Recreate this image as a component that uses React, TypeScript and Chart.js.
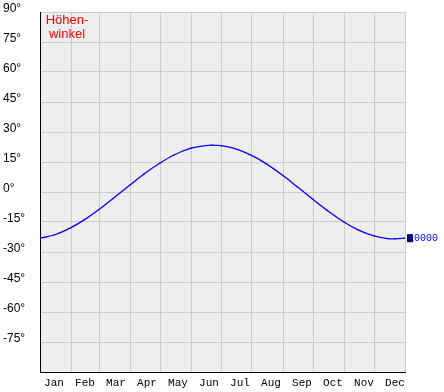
import React, { useEffect, useRef } from 'react';
import { Chart, registerables } from 'chart.js';

Chart.register(...registerables);

// Day of year (0 = Jan 1) and elevation angle in degrees
const days = [0, 14, 31, 45, 59, 73, 90, 104, 120, 134, 151, 165, 172, 181, 195, 212, 226, 243, 257, 273, 287, 304, 318, 334, 348, 355, 365];
const elevation = [-23.1, -21.5, -17.8, -13.7, -8.8, -3.3, 3.5, 9.0, 14.5, 18.5, 21.9, 23.2, 23.4, 23.2, 21.7, 18.2, 14.2, 8.2, 2.7, -3.7, -9.1, -15.0, -18.9, -21.9, -23.3, -23.4, -23.1];

const monthStarts = [0, 31, 59, 90, 120, 151, 181, 212, 243, 273, 304, 334, 365];
const monthLabels = ['Jan', 'Feb', 'Mar', 'Apr', 'May', 'Jun', 'Jul', 'Aug', 'Sep', 'Oct', 'Nov', 'Dec'];
const monthLabelDays = [14, 45, 76, 107, 138, 169, 200, 231, 262, 293, 324, 355];
const yTicks = [-90, -75, -60, -45, -30, -15, 0, 15, 30, 45, 60, 75, 90];
const titleLines = ['Höhen-', 'winkel'];
const sideLabel = '10000';

export default function App() {
  const ref = useRef<HTMLCanvasElement | null>(null);

  useEffect(() => {
    document.body.style.margin = '0';
    const canvas = ref.current;
    if (!canvas) return;

    const points = days.map((d, i) => ({ x: d, y: elevation[i] }));

    const bgPlugin = {
      id: 'bg',
      beforeDraw(chart: any) {
        const { ctx, chartArea } = chart;
        ctx.save();
        ctx.fillStyle = '#ffffff';
        ctx.fillRect(0, 0, chart.width, chart.height);
        ctx.fillStyle = '#eeeeee';
        ctx.fillRect(chartArea.left, chartArea.top, chartArea.right - chartArea.left, chartArea.bottom - chartArea.top);
        ctx.restore();
      },
    };

    const textPlugin = {
      id: 'texts',
      afterDraw(chart: any) {
        const { ctx, chartArea, scales } = chart;
        ctx.save();
        // title
        ctx.fillStyle = '#ff0000';
        ctx.font = '13px "Liberation Sans", Arial, sans-serif';
        ctx.textAlign = 'center';
        ctx.textBaseline = 'alphabetic';
        titleLines.forEach((t, i) => {
          ctx.fillText(t, chartArea.left + 27, chartArea.top + 12 + i * 14);
        });
        // side label at last value
        const yv = scales.y.getPixelForValue(elevation[elevation.length - 1]);
        const xr = chartArea.right;
        ctx.font = '10px "Liberation Mono", monospace';
        ctx.textAlign = 'left';
        ctx.textBaseline = 'middle';
        ctx.fillStyle = '#0000ff';
        ctx.fillText(sideLabel, xr + 3, yv + 0.5);
        ctx.fillStyle = '#000044';
        ctx.fillRect(xr + 2, yv - 4, 6, 8);
        ctx.fillStyle = '#0000ff';
        ctx.fillRect(xr + 4, yv - 3, 2, 6);
        ctx.restore();
      },
    };

    const chart = new Chart(canvas, {
      type: 'line',
      data: {
        datasets: [
          {
            label: 'blue',
            data: points,
            borderColor: '#0000ff',
            borderWidth: 1.3,
            pointRadius: 0,
            cubicInterpolationMode: 'monotone',
            fill: false,
          },
          {
            label: 'red',
            data: points,
            showLine: false,
            pointRadius: 1,
            pointStyle: 'rect',
            pointBackgroundColor: '#ff0000',
            pointBorderWidth: 0,
            borderColor: '#ff0000',
          },
        ],
      },
      options: {
        responsive: false,
        animation: false,
        events: [],
        layout: { padding: { top: 12, right: 39, left: 3, bottom: 0 } },
        plugins: {
          legend: { display: false },
          tooltip: { enabled: false },
          title: { display: false },
        },
        scales: {
          x: {
            type: 'linear',
            position: 'bottom',
            min: 0,
            max: 365,
            weight: 0,
            afterBuildTicks(scale: any) {
              scale.ticks = monthStarts.map((v) => ({ value: v }));
            },
            afterFit(scale: any) {
              scale.height = 0;
            },
            ticks: { display: false },
            grid: { color: '#cccccc', lineWidth: 1, drawTicks: false },
            border: { color: '#000000', width: 1 },
          },
          xl: {
            type: 'linear',
            position: 'bottom',
            min: 0,
            max: 365,
            weight: 1,
            afterBuildTicks(scale: any) {
              scale.ticks = monthLabelDays.map((v) => ({ value: v }));
            },
            afterFit(scale: any) {
              scale.height = 20;
            },
            ticks: {
              autoSkip: false,
              maxRotation: 0,
              padding: 4,
              color: '#000000',
              font: { family: '"Liberation Mono", monospace', size: 11 },
              callback(_v: any, i: number) {
                return monthLabels[i];
              },
            },
            grid: { display: false, drawTicks: false },
            border: { display: false },
          },
          y: {
            type: 'linear',
            min: -90,
            max: 90,
            afterBuildTicks(scale: any) {
              scale.ticks = yTicks.map((v) => ({ value: v }));
            },
            afterFit(scale: any) {
              scale.width = 37;
            },
            ticks: {
              crossAlign: 'far',
              labelOffset: -3,
              color: '#000000',
              font: { family: '"Liberation Sans", Arial, sans-serif', size: 12 },
              callback(v: any) {
                return v === -90 ? '' : v + '°';
              },
            },
            grid: { color: '#cccccc', lineWidth: 1, drawTicks: false },
            border: { color: '#000000', width: 1 },
          },
        },
      },
      plugins: [bgPlugin, textPlugin],
    } as any);

    return () => chart.destroy();
  }, []);

  return (
    <div style={{ width: 444, height: 392 }}>
      <canvas ref={ref} width={444} height={392} style={{ display: 'block' }} />
    </div>
  );
}
